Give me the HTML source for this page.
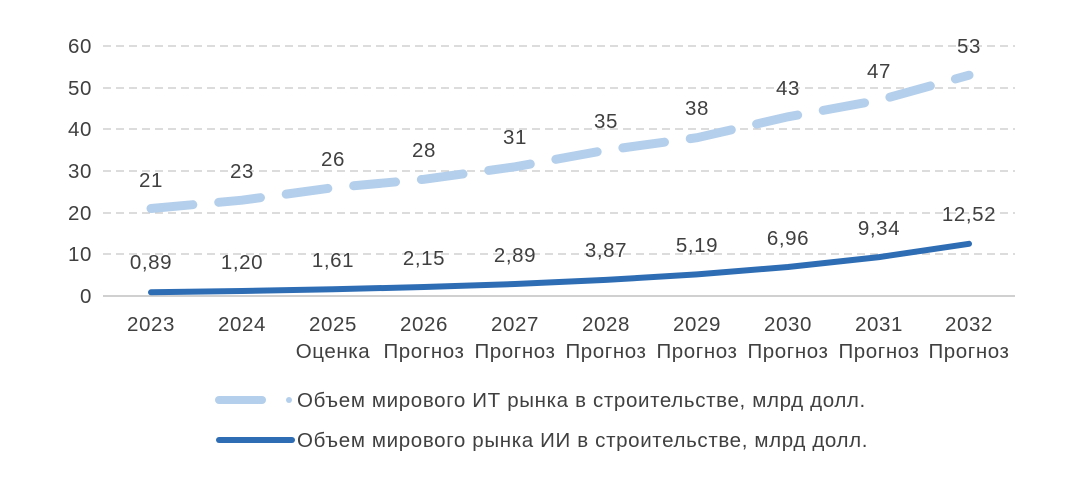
<!DOCTYPE html>
<html><head><meta charset="utf-8"><style>
body{margin:0;background:#fff}
svg{display:block;font-family:"Liberation Sans",sans-serif;fill:#404040}
</style></head><body>
<svg width="1072" height="489" viewBox="0 0 1072 489">
<g stroke="#d0d0d0" stroke-width="1.5" stroke-dasharray="8,5">
<line x1="103" x2="1015" y1="46" y2="46"/><line x1="103" x2="1015" y1="88" y2="88"/>
<line x1="103" x2="1015" y1="129" y2="129"/><line x1="103" x2="1015" y1="171" y2="171"/>
<line x1="103" x2="1015" y1="213" y2="213"/><line x1="103" x2="1015" y1="254" y2="254"/>
</g>
<line x1="103" x2="1015" y1="296" y2="296" stroke="#d0d0d0" stroke-width="2"/>
<g font-size="20.5" text-anchor="end" letter-spacing="0.6">
<text x="92" y="53">60</text><text x="92" y="95">50</text><text x="92" y="136">40</text>
<text x="92" y="178">30</text><text x="92" y="220">20</text><text x="92" y="261">10</text><text x="92" y="303">0</text>
</g>
<polyline fill="none" stroke="#b4cfeb" stroke-width="9" stroke-linecap="round" stroke-dasharray="42,26"
points="151,208.5 242,200.2 333,187.7 424,179.3 515,166.8 606,150.2 697,137.7 788,116.8 879,100.2 969,75.2"/>
<polyline fill="none" stroke="#2e6db4" stroke-width="6" stroke-linecap="round" stroke-linejoin="round"
points="151,292.3 242,291 333,289.3 424,287 515,284 606,279.9 697,274.4 788,267 879,257.1 969,243.8"/>
<g font-size="20.5" text-anchor="middle" letter-spacing="0.6">
<text x="151" y="187">21</text><text x="242" y="178">23</text><text x="333" y="166">26</text>
<text x="424" y="157">28</text><text x="515" y="144">31</text><text x="606" y="128">35</text>
<text x="697" y="115">38</text><text x="788" y="95">43</text><text x="879" y="78">47</text><text x="969" y="53">53</text>
<text x="151" y="269">0,89</text><text x="242" y="269">1,20</text><text x="333" y="267">1,61</text>
<text x="424" y="265">2,15</text><text x="515" y="262">2,89</text><text x="606" y="257">3,87</text>
<text x="697" y="252">5,19</text><text x="788" y="245">6,96</text><text x="879" y="235">9,34</text><text x="969" y="221">12,52</text>
<text x="151" y="331">2023</text><text x="242" y="331">2024</text><text x="333" y="331">2025</text>
<text x="424" y="331">2026</text><text x="515" y="331">2027</text><text x="606" y="331">2028</text>
<text x="697" y="331">2029</text><text x="788" y="331">2030</text><text x="879" y="331">2031</text><text x="969" y="331">2032</text>
<text x="333" y="358">Оценка</text><text x="424" y="358">Прогноз</text><text x="515" y="358">Прогноз</text>
<text x="606" y="358">Прогноз</text><text x="697" y="358">Прогноз</text><text x="788" y="358">Прогноз</text>
<text x="879" y="358">Прогноз</text><text x="969" y="358">Прогноз</text>
</g>
<line x1="219" x2="262" y1="400" y2="400" stroke="#b4cfeb" stroke-width="8" stroke-linecap="round"/>
<circle cx="289" cy="400" r="3" fill="#b4cfeb"/>
<line x1="219" x2="292" y1="440" y2="440" stroke="#2e6db4" stroke-width="6" stroke-linecap="round"/>
<g font-size="20.5" letter-spacing="0.65">
<text x="297" y="407">Объем мирового ИТ рынка в строительстве, млрд долл.</text>
<text x="297" y="447">Объем мирового рынка ИИ в строительстве, млрд долл.</text>
</g>
</svg>
</body></html>
